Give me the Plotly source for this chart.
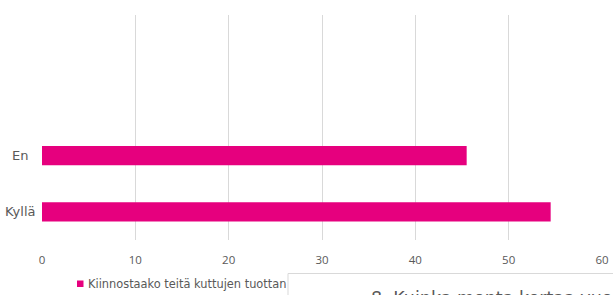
import plotly.graph_objects as go

categories = ["Kyllä", "En"]
values = [54.5, 45.5]
series_name = "Kiinnostaako teitä kuttujen tuottan"
x_ticks = [0, 10, 20, 30, 40, 50, 60]
overlay_title = "8. Kuinka monta kertaa vuo"

W, H = 613, 295
ml, mr, mt, mb = 42, 11, 15, 55
PW, PH = W - ml - mr, H - mt - mb
BAR_COLOR = "#e6007e"
TXT = "#595959"


def px_x(p):
    return (p - ml) / PW


def px_y(p):
    return (mt + PH - p) / PH


fig = go.Figure()
fig.add_trace(go.Bar(
    y=categories, x=values, orientation="h",
    marker=dict(color=BAR_COLOR, line=dict(width=0)),
    width=0.345, name=series_name, showlegend=False,
))

fig.update_layout(
    width=W, height=H,
    margin=dict(l=ml, r=mr, t=mt, b=mb, autoexpand=False),
    paper_bgcolor="white", plot_bgcolor="white",
    font=dict(family="DejaVu Sans", size=11, color=TXT),
    xaxis=dict(range=[0, 60], tickvals=x_ticks, showgrid=True,
               gridcolor="#d9d9d9", gridwidth=1, zeroline=False,
               showline=False, ticks="", ticklabelstandoff=11,
               automargin=False,
               tickfont=dict(family="Open Sans", size=11.5, color=TXT)),
    yaxis=dict(type="category", categoryorder="array", categoryarray=categories,
               range=[-0.5, 3.5], showgrid=False, zeroline=False,
               showline=False, ticks="", showticklabels=False,
               automargin=False),
    showlegend=False,
)

# category labels (centred, as in the reference)
for c in categories:
    fig.add_annotation(text=c, xref="paper", yref="y", x=px_x(19.5), y=c,
                       xanchor="center", yanchor="middle", showarrow=False,
                       font=dict(family="DejaVu Sans", size=13, color=TXT))

# legend (manual)
fig.add_shape(type="rect", xref="paper", yref="paper",
              x0=px_x(77), x1=px_x(83.5), y0=px_y(287), y1=px_y(280.5),
              line=dict(width=0), fillcolor=BAR_COLOR, layer="above")
fig.add_annotation(text=series_name, xref="paper", yref="paper",
                   x=px_x(86), y=px_y(284), xanchor="left", yanchor="middle",
                   showarrow=False,
                   font=dict(family="DejaVu Sans", size=11.4, color=TXT))

# overlapping box
fig.add_shape(type="rect", xref="paper", yref="paper",
              x0=px_x(288), x1=px_x(W + 5), y0=px_y(300), y1=px_y(273.5),
              line=dict(color="#d9d9d9", width=1), fillcolor="white", layer="above")
fig.add_annotation(text=overlay_title, xref="paper", yref="paper",
                   x=px_x(369), xanchor="left", y=px_y(286), yanchor="top",
                   showarrow=False, font=dict(family="DejaVu Sans", size=17.5, color=TXT))

fig.write_html("out.html", config={"displayModeBar": False},
               post_script="document.body.style.margin='0';document.body.style.overflow='hidden';")
